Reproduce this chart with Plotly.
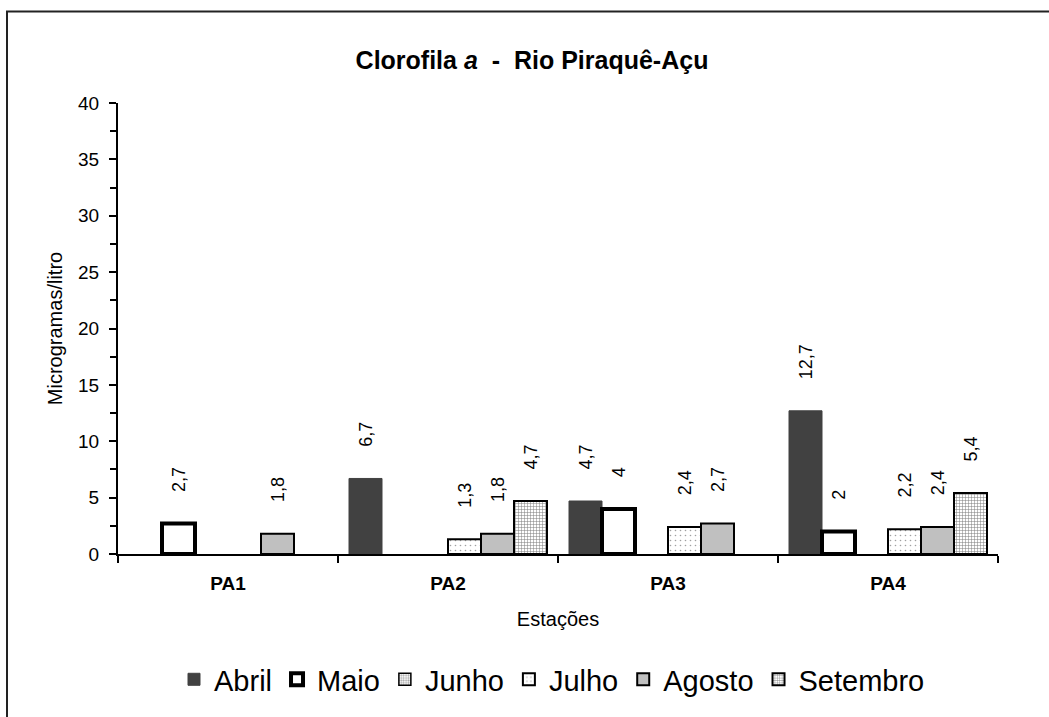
import plotly.graph_objects as go

# Estações de coleta e concentração de clorofila a (µg/L) por mês
estacoes = ["PA1", "PA2", "PA3", "PA4"]
abril = [None, 6.7, 4.7, 12.7]
maio = [2.7, None, 4.0, 2.0]
junho = [None, None, None, None]
julho = [None, 1.3, 2.4, 2.2]
agosto = [1.8, 1.8, 2.7, 2.4]
setembro = [None, 4.7, None, 5.4]

FONT = "Liberation Sans, Arial, sans-serif"
W, H = 1049, 717
ML, MR, MT, MB = 118, 51, 103, 161
PW, PH = W - ML - MR, H - MT - MB


def rotulo(v):
    # valor com vírgula decimal, afastado do topo da barra
    if v is None:
        return ""
    return "\u00a0" * 5 + "\u2009" + f"{v:g}".replace(".", ",")


series = [
    ("Abril", abril, dict(color="#414141", line=dict(color="#414141", width=1))),
    ("Maio", maio, dict(color="white", line=dict(color="black", width=4))),
    ("Junho", junho, dict(color="white", line=dict(color="black", width=1.5),
                          pattern=dict(shape=".", fgcolor="#a8a8a8", bgcolor="white",
                                       size=3, solidity=0.45, fillmode="replace"))),
    ("Julho", julho, dict(color="white", line=dict(color="black", width=2),
                          pattern=dict(shape=".", fgcolor="#a0a0a0", bgcolor="white",
                                       size=5, solidity=0.08, fillmode="replace"))),
    ("Agosto", agosto, dict(color="#c0c0c0", line=dict(color="black", width=2))),
    ("Setembro", setembro, dict(color="white", line=dict(color="black", width=2),
                                pattern=dict(shape="+", fgcolor="#7a7a7a", bgcolor="white",
                                             size=3, solidity=0.3, fillmode="replace"))),
]

fig = go.Figure()
for nome, valores, marcador in series:
    fig.add_trace(go.Bar(
        name=nome,
        x=estacoes,
        y=valores,
        marker=marcador,
        text=[rotulo(v) for v in valores],
        textposition="outside",
        textangle=-90,
        constraintext="none",
        cliponaxis=False,
        textfont=dict(family=FONT, size=18, color="black"),
    ))


def px_x(p):
    return (p - ML) / PW


def px_y(p):
    return (H - MB - p) / PH


fig.update_layout(
    width=W,
    height=H,
    margin=dict(l=ML, r=MR, t=MT, b=MB),
    paper_bgcolor="white",
    plot_bgcolor="white",
    barmode="group",
    bargap=0.1,
    bargroupgap=0,
    font=dict(family=FONT, color="black"),
    title=dict(
        text="Clorofila <i>a</i>\u00a0 -\u00a0 Rio Piraquê-Açu",
        font=dict(family=FONT, size=25, color="black", weight="bold"),
        x=532 / W, xref="container", xanchor="center",
        y=1 - 60 / H, yref="container", yanchor="middle",
    ),
    xaxis=dict(
        type="category",
        showline=True, linecolor="black", linewidth=2,
        ticks="outside", tickson="boundaries", ticklen=7, tickwidth=2, tickcolor="black",
        tickfont=dict(family=FONT, size=19, weight="bold"),
        ticklabelstandoff=11,
        showgrid=False, zeroline=False,
        title=dict(text="Estações", font=dict(family=FONT, size=20), standoff=19),
    ),
    yaxis=dict(
        range=[0, 40], dtick=5,
        showline=True, linecolor="black", linewidth=2,
        ticks="outside", ticklen=7, tickwidth=2, tickcolor="black",
        minor=dict(dtick=2.5, ticks="outside", ticklen=6, tickwidth=2, tickcolor="black"),
        tickfont=dict(family=FONT, size=19),
        ticklabelstandoff=6,
        showgrid=False, zeroline=False,
        title=dict(text="Microgramas/litro", font=dict(family=FONT, size=20), standoff=10),
    ),
    legend=dict(
        orientation="h",
        x=px_x(552), xanchor="center",
        y=px_y(682), yanchor="middle",
        font=dict(family=FONT, size=29, color="black"),
        traceorder="normal",
        bgcolor="rgba(0,0,0,0)",
    ),
    shapes=[
        # moldura do gráfico (bordas esquerda e superior)
        dict(type="rect", xref="paper", yref="paper",
             x0=px_x(7), x1=px_x(W + 40), y0=px_y(H + 40), y1=px_y(11),
             line=dict(color="#222222", width=2), fillcolor="rgba(0,0,0,0)", layer="below"),
    ],
)

fig.write_html("out.html")
